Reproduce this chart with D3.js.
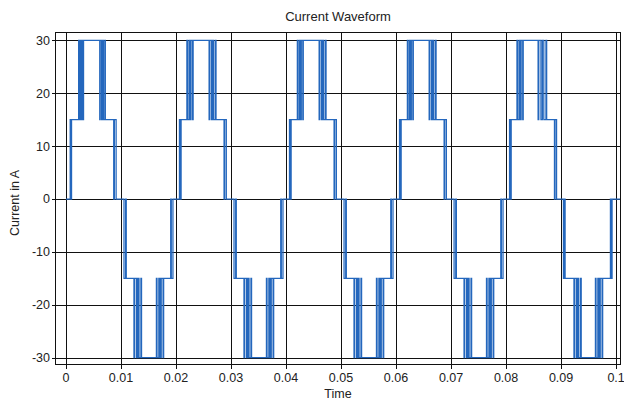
<!DOCTYPE html>
<html>
<head>
<meta charset="utf-8">
<script src="https://cdn.jsdelivr.net/npm/d3@7"></script>
<style>
  html, body { margin: 0; padding: 0; background: #fff; }
  svg { display: block; font-family: "Liberation Sans", Arial, sans-serif; }
</style>
</head>
<body>
<svg id="chart" width="624" height="400"></svg>
<script>
// ---- data ----
const title = "Current Waveform";
const xLabel = "Time";
const yLabel = "Current in A";
const xTicks = [0, 0.01, 0.02, 0.03, 0.04, 0.05, 0.06, 0.07, 0.08, 0.09, 0.1];
const xTickLabels = ["0", "0.01", "0.02", "0.03", "0.04", "0.05", "0.06", "0.07", "0.08", "0.09", "0.1"];
const yTicks = [-30, -20, -10, 0, 10, 20, 30];
const yTickLabels = ["-30", "-20", "-10", "0", "10", "20", "30"];
const stepLevels = [0, 15, 30];           // current levels (A)
// half-cycle polarity
const halfSign = [1, -1, 1, -1, 1, -1, 1, -1, 1, -1];
// switching bands per half-cycle (s): [0<->15 start,end, 15<->30 start,end, 30<->15 start,end, 15<->0 start,end]
const bands = [
  [0.0005, 0.0014, 0.0020, 0.0035, 0.0058, 0.0075, 0.0080, 0.0096],
  [0.0101, 0.0116, 0.0119, 0.0142, 0.0160, 0.0182, 0.0184, 0.0199],
  [0.0203, 0.0214, 0.0216, 0.0235, 0.0256, 0.0277, 0.0281, 0.0296],
  [0.0301, 0.0316, 0.0319, 0.0342, 0.0360, 0.0382, 0.0384, 0.0399],
  [0.0403, 0.0414, 0.0417, 0.0435, 0.0456, 0.0477, 0.0481, 0.0496],
  [0.0501, 0.0516, 0.0519, 0.0542, 0.0560, 0.0582, 0.0584, 0.0599],
  [0.0603, 0.0614, 0.0617, 0.0635, 0.0656, 0.0677, 0.0681, 0.0696],
  [0.0701, 0.0716, 0.0719, 0.0742, 0.0760, 0.0782, 0.0784, 0.0799],
  [0.0803, 0.0814, 0.0816, 0.0835, 0.0853, 0.0879, 0.0882, 0.0896],
  [0.0901, 0.0912, 0.0919, 0.0941, 0.0958, 0.0980, 0.0985, 0.0996]
];
// PWM duty of the higher level inside successive slots of a rising band
const pwmDuty = [0.2, 0.4, 0.6, 0.8];      // 15 <-> 30 bands
const outerDuty = [0.4, 0.85];             // 0 <-> 15 bands

// ---- build step series ----
function risingBand(a, b, lo, hi, duty) {
  const n = duty.length, w = (b - a) / n, ev = [];
  duty.forEach((d, k) => {
    const s = a + k * w;
    ev.push([s + (1 - d) * w, hi]);
    if (k < n - 1) ev.push([s + w, lo]);
  });
  return ev;
}
function fallingBand(a, b, hi, lo, duty) {
  const n = duty.length, w = (b - a) / n, ev = [];
  duty.slice().reverse().forEach((d, k) => {
    const s = a + k * w;
    if (k > 0) ev.push([s, hi]);
    ev.push([s + d * w, lo]);
  });
  return ev;
}
const wave = [[0, 0]];
bands.forEach((bd, i) => {
  const s = halfSign[i];
  const l0 = stepLevels[0], l1 = s * stepLevels[1], l2 = s * stepLevels[2];
  wave.push(...risingBand(bd[0], bd[1], l0, l1, outerDuty));
  wave.push(...risingBand(bd[2], bd[3], l1, l2, pwmDuty));
  wave.push(...fallingBand(bd[4], bd[5], l2, l1, pwmDuty));
  wave.push(...fallingBand(bd[6], bd[7], l1, l0, outerDuty));
});
wave.push([0.1008, 0]);
wave.sort((p, q) => p[0] - q[0]);

// ---- layout ----
const svg = d3.select("#chart");
const pL = 55.5, pR = 620.5, pT = 32.5, pB = 364.5;
const x = d3.scaleLinear().domain([-0.0019, 0.1008]).range([pL, pR]);
const y = d3.scaleLinear().domain([-31.3, 31.5]).range([pB, pT]);

svg.append("defs").append("clipPath").attr("id", "clip")
  .append("rect").attr("x", pL).attr("y", pT)
  .attr("width", pR - pL).attr("height", pB - pT);

// grid + ticks
const grid = svg.append("g").attr("stroke", "#111").attr("stroke-width", 1).attr("shape-rendering", "crispEdges");
grid.selectAll("line.v").data(xTicks).join("line").attr("class", "v")
  .attr("x1", d => Math.round(x(d)) + 0.5).attr("x2", d => Math.round(x(d)) + 0.5)
  .attr("y1", pT).attr("y2", pB + 4);
grid.selectAll("line.h").data(yTicks).join("line").attr("class", "h")
  .attr("y1", d => Math.round(y(d)) + 0.5).attr("y2", d => Math.round(y(d)) + 0.5)
  .attr("x1", pL - 4).attr("x2", pR);

// waveform
const line = d3.line().x(d => x(d[0])).y(d => y(d[1])).curve(d3.curveStepAfter);
svg.append("path").datum(wave)
  .attr("clip-path", "url(#clip)")
  .attr("fill", "none").attr("stroke", "#2467bd").attr("stroke-width", 1.25)
  .attr("d", line);

// frame
svg.append("rect").attr("x", pL).attr("y", pT)
  .attr("width", pR - pL).attr("height", pB - pT)
  .attr("fill", "none").attr("stroke", "#111").attr("stroke-width", 1)
  .attr("shape-rendering", "crispEdges");

// tick labels
svg.append("g").selectAll("text").data(xTicks).join("text")
  .attr("x", d => x(d)).attr("y", 382)
  .attr("text-anchor", "middle").attr("font-size", 12.5).attr("fill", "#222")
  .text((d, i) => xTickLabels[i]);
svg.append("g").selectAll("text").data(yTicks).join("text")
  .attr("x", 50).attr("y", d => y(d)).attr("dy", "0.35em")
  .attr("text-anchor", "end").attr("font-size", 12.5).attr("fill", "#222")
  .text((d, i) => yTickLabels[i]);

// titles
svg.append("text").attr("x", (pL + pR) / 2).attr("y", 21)
  .attr("text-anchor", "middle").attr("font-size", 13).attr("fill", "#222").text(title);
svg.append("text").attr("x", (pL + pR) / 2).attr("y", 398)
  .attr("text-anchor", "middle").attr("font-size", 12.5).attr("fill", "#222").text(xLabel);
svg.append("text").attr("transform", "translate(19,203) rotate(-90)")
  .attr("text-anchor", "middle").attr("font-size", 12.5).attr("fill", "#222").text(yLabel);
</script>
</body>
</html>
